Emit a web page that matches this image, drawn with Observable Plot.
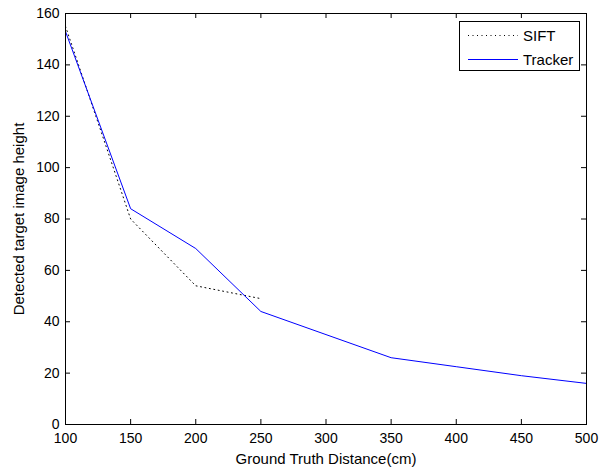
<!DOCTYPE html>
<html><head><meta charset="utf-8">
<script src="https://cdn.jsdelivr.net/npm/d3@7"></script>
<script src="https://cdn.jsdelivr.net/npm/@observablehq/plot@0.6"></script>
<style>
body{margin:0;background:#fff}
#wrap{position:relative;width:600px;height:472px;font-family:Arial,"Liberation Sans",sans-serif}
#legend{position:absolute;left:459px;top:21px;width:121px;height:50px;border:1px solid #000;background:#fff;box-sizing:border-box}
#legend .row{position:absolute;left:0;height:20px;display:flex;align-items:center;font-size:15px;color:#000}
#legend svg{display:block;margin-left:8px;margin-right:5px}
</style></head>
<body><div id="wrap"></div>
<script>
// data
const distances = [100, 150, 200, 250, 300, 350, 400, 450, 500];
const trackerHeights = [153, 84, 68.5, 44, 35, 26, 22.5, 19, 16];
const siftDistances = [100, 150, 200, 250];
const siftHeights = [155, 80, 54, 49];
const xTicks = [100, 150, 200, 250, 300, 350, 400, 450, 500];
const yTicks = [0, 20, 40, 60, 80, 100, 120, 140, 160];
const seriesNames = ["SIFT", "Tracker"];

const tracker = distances.map((d, i) => ({x: d, y: trackerHeights[i]}));
const sift = siftDistances.map((d, i) => ({x: d, y: siftHeights[i]}));

const W = 600, H = 472, mL = 65, mR = 14, mT = 13, mB = 48;
const plotH = H - mT - mB, plotW = W - mL - mR, tk = 5;

const chart = Plot.plot({
  width: W, height: H,
  marginLeft: mL, marginRight: mR, marginTop: mT, marginBottom: mB,
  style: {fontFamily: 'Arial, "Liberation Sans", sans-serif', fontSize: "14px", background: "white", color: "black"},
  x: {domain: [100, 500]},
  y: {domain: [0, 160]},
  marks: [
    Plot.tickX(xTicks, {x: d => d, insetTop: plotH - tk, stroke: "#000"}),
    Plot.tickX(xTicks, {x: d => d, insetBottom: plotH - tk, stroke: "#000"}),
    Plot.tickY(yTicks, {y: d => d, insetRight: plotW - tk, stroke: "#000"}),
    Plot.tickY(yTicks, {y: d => d, insetLeft: plotW - tk, stroke: "#000"}),
    Plot.axisX(xTicks, {tickSize: 0, tickPadding: 9, label: null}),
    Plot.axisY(yTicks, {tickSize: 0, tickPadding: 6, label: null}),
    Plot.text(["Ground Truth Distance(cm)"], {frameAnchor: "bottom", dy: 39, text: d => d, fontSize: 15, lineAnchor: "bottom", textAnchor: "middle", style: "letter-spacing:0.5px"}),
    Plot.text(["Detected target image height"], {frameAnchor: "left", dx: -46, rotate: -90, text: d => d, fontSize: 15, textAnchor: "middle", lineAnchor: "middle", style: "letter-spacing:0.5px"}),
    Plot.line(sift, {x: "x", y: "y", stroke: "#000", strokeWidth: 1, strokeDasharray: "1,3.5"}),
    Plot.line(tracker, {x: "x", y: "y", stroke: "#0000ff", strokeWidth: 1}),
    Plot.frame({stroke: "#000"})
  ]
});

const wrap = document.getElementById("wrap");
wrap.appendChild(chart);

const legend = document.createElement("div");
legend.id = "legend";
const legendStroke = ["#000", "#0000ff"];
const legendDash = ["1,3.5", "none"];
seriesNames.forEach((name, i) => {
  const row = document.createElement("div");
  row.className = "row";
  row.style.top = (i === 0 ? 3 : 27) + "px";
  const s = d3.create("svg").attr("width", 50).attr("height", 10);
  s.append("line").attr("x1", 0).attr("x2", 50).attr("y1", 5.5).attr("y2", 5.5)
    .attr("stroke", legendStroke[i]).attr("stroke-width", 1)
    .attr("stroke-dasharray", legendDash[i]);
  row.appendChild(s.node());
  const t = document.createElement("span");
  t.textContent = name;
  row.appendChild(t);
  legend.appendChild(row);
});
wrap.appendChild(legend);
</script>
</body></html>
